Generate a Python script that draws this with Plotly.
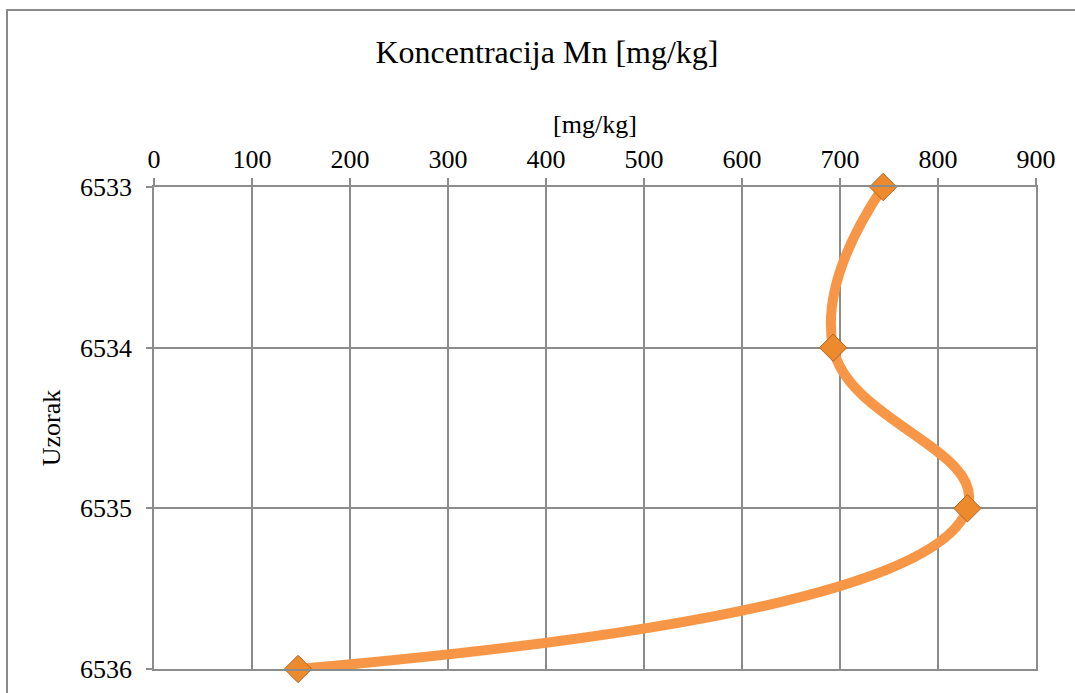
import plotly.graph_objects as go

samples = [6533, 6534, 6535, 6536]
mn_values = [744, 693, 830, 147]
x_ticks = [0, 100, 200, 300, 400, 500, 600, 700, 800, 900]

FONT = "Liberation Serif, Times New Roman, serif"
GRID = "#8c8c8c"

fig = go.Figure()
fig.add_trace(go.Scatter(
    x=mn_values, y=samples,
    mode="lines+markers",
    line=dict(color="#F79646", width=10, shape="spline", smoothing=1.3),
    marker=dict(symbol="diamond", size=21, color="#EE8A2E",
                line=dict(color="#B3621B", width=1)),
    cliponaxis=False,
    showlegend=False,
    hoverinfo="x+y",
))

fig.update_layout(
    width=1075, height=693,
    margin=dict(l=154, r=39, t=187, b=24, autoexpand=False),
    paper_bgcolor="white", plot_bgcolor="white",
    font=dict(family=FONT, size=26, color="black"),
    title=dict(text="Koncentracija Mn [mg/kg]", x=(547 / 1075), xanchor="center",
               y=1 - 52 / 693, yanchor="middle",
               font=dict(family=FONT, size=32, color="black")),
    xaxis=dict(
        side="top", range=[0, 900], tickvals=x_ticks,
        ticktext=[str(v) for v in x_ticks],
        showgrid=True, gridcolor=GRID, gridwidth=1.5,
        showline=True, linecolor=GRID, linewidth=1.5, mirror=True,
        ticks="outside", ticklen=7, tickcolor=GRID, tickwidth=1.5,
        zeroline=False, automargin=False,
        title=dict(text="[mg/kg]", font=dict(family=FONT, size=26), standoff=4),
        tickfont=dict(family=FONT, size=26),
    ),
    yaxis=dict(
        range=[6536, 6533], tickvals=samples,
        ticktext=[str(s) for s in samples],
        showgrid=True, gridcolor=GRID, gridwidth=1.5,
        showline=True, linecolor=GRID, linewidth=1.5, mirror=True,
        ticks="outside", ticklen=6, tickcolor=GRID, tickwidth=1.5,
        ticklabelstandoff=9,
        zeroline=False, automargin=False,
        title=dict(text="Uzorak", font=dict(family=FONT, size=26), standoff=12),
        tickfont=dict(family=FONT, size=26),
    ),
    shapes=[dict(
        type="rect", xref="paper", yref="paper",
        x0=(7 - 154) / 882, x1=(1090 - 154) / 882,
        y0=-0.1, y1=(669 - 10) / 482,
        line=dict(color="#8a8a8a", width=2), fillcolor="rgba(0,0,0,0)",
        layer="below",
    )],
)

fig.write_html("out.html", config={"displayModeBar": False},
               post_script="document.body.style.margin='0';")
